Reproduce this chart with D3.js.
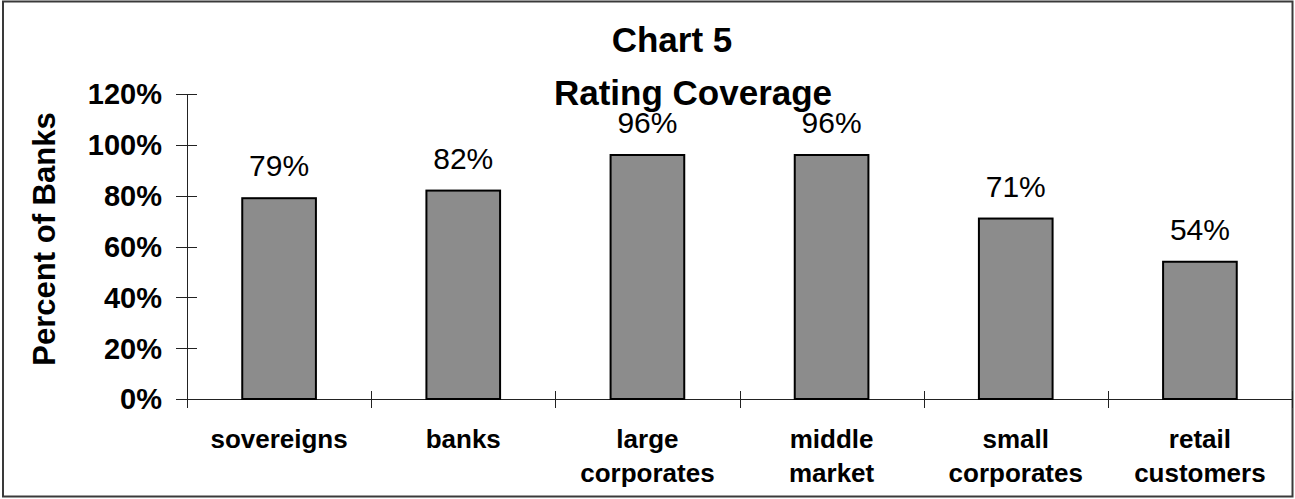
<!DOCTYPE html>
<meta charset="utf-8">
<style>
body {
  margin: 0;
  background: #fff;
}
svg {
  display: block;
  font-family: "Liberation Sans", Arial, sans-serif;
}
</style>
<script src="https://cdnjs.cloudflare.com/ajax/libs/d3/7.8.5/d3.min.js"></script>
<body></body>
<script>

var width = 1295;
var height = 499;

// data
var categories = [
  ['sovereigns'],
  ['banks'],
  ['large', 'corporates'],
  ['middle', 'market'],
  ['small', 'corporates'],
  ['retail', 'customers']
];
var coverage = [0.79, 0.82, 0.96, 0.96, 0.71, 0.54];
var yTicks = [0, 0.2, 0.4, 0.6, 0.8, 1.0, 1.2];

var plot = { left: 187, right: 1292, top: 94, bottom: 399 };

var svg = d3.select('body').append('svg')
  .attr('width', width)
  .attr('height', height);

// outer frame
svg.append('rect')
  .attr('x', 3)
  .attr('y', 1.5)
  .attr('width', 1289.5)
  .attr('height', 495)
  .attr('fill', 'none')
  .attr('stroke', '#3a3a3a')
  .attr('stroke-width', 2);

var x = d3.scaleBand()
  .domain(d3.range(categories.length))
  .range([plot.left, plot.right])
  .paddingInner(0.6)
  .paddingOuter(0.3);

var y = d3.scaleLinear()
  .domain([0, 1.2])
  .range([plot.bottom, plot.top]);

var pct = d3.format('.0%');

// y axis
var yAxis = svg.append('g');
yAxis.append('line')
  .attr('x1', plot.left + 0.5).attr('x2', plot.left + 0.5)
  .attr('y1', y(1.2)).attr('y2', plot.bottom + 9)
  .attr('stroke', '#222');
yAxis.selectAll('.tick')
  .data(yTicks)
  .enter().append('line')
  .attr('x1', plot.left - 11).attr('x2', plot.left + 10)
  .attr('y1', d => Math.round(y(d)) + 0.5)
  .attr('y2', d => Math.round(y(d)) + 0.5)
  .attr('stroke', '#222');
yAxis.selectAll('text')
  .data(yTicks)
  .enter().append('text')
  .attr('x', plot.left - 25)
  .attr('y', d => y(d))
  .attr('dy', '0.36em')
  .attr('text-anchor', 'end')
  .attr('font-size', 29)
  .attr('font-weight', 'bold')
  .text(d => pct(d));

// x axis
var xAxis = svg.append('g');
xAxis.append('line')
  .attr('x1', plot.left).attr('x2', plot.right)
  .attr('y1', plot.bottom + 0.5).attr('y2', plot.bottom + 0.5)
  .attr('stroke', '#222');
xAxis.selectAll('.tick')
  .data(d3.range(categories.length + 1))
  .enter().append('line')
  .attr('x1', i => Math.round(plot.left + i * x.step()) + 0.5)
  .attr('x2', i => Math.round(plot.left + i * x.step()) + 0.5)
  .attr('y1', plot.bottom - 8)
  .attr('y2', plot.bottom + 9)
  .attr('stroke', '#222');

var catLabel = xAxis.selectAll('text.cat')
  .data(categories)
  .enter().append('text')
  .attr('class', 'cat')
  .attr('x', (d, i) => x(i) + x.bandwidth() / 2)
  .attr('y', 448)
  .attr('text-anchor', 'middle')
  .attr('font-size', 26)
  .attr('font-weight', 'bold');
catLabel.selectAll('tspan')
  .data(d => d)
  .enter().append('tspan')
  .attr('x', function() { return this.parentNode.getAttribute('x'); })
  .attr('dy', (d, i) => i === 0 ? 0 : 34)
  .text(d => d);

// bars
svg.selectAll('rect.bar')
  .data(coverage)
  .enter().append('rect')
  .attr('class', 'bar')
  .attr('x', (d, i) => x(i))
  .attr('y', d => y(d))
  .attr('width', x.bandwidth())
  .attr('height', d => y(0) - y(d))
  .attr('fill', '#8c8c8c')
  .attr('stroke', '#000')
  .attr('stroke-width', 2);

// value labels
svg.selectAll('text.val')
  .data(coverage)
  .enter().append('text')
  .attr('class', 'val')
  .attr('x', (d, i) => x(i) + x.bandwidth() / 2)
  .attr('y', d => y(d) - 22)
  .attr('text-anchor', 'middle')
  .attr('font-size', 30)
  .text(d => pct(d));

// titles
svg.append('text')
  .attr('x', 672)
  .attr('y', 52)
  .attr('text-anchor', 'middle')
  .attr('font-size', 35)
  .attr('font-weight', 'bold')
  .text('Chart 5');
svg.append('text')
  .attr('x', 693)
  .attr('y', 105)
  .attr('text-anchor', 'middle')
  .attr('font-size', 35)
  .attr('font-weight', 'bold')
  .text('Rating Coverage');

svg.append('text')
  .attr('transform', 'translate(55,239) rotate(-90)')
  .attr('text-anchor', 'middle')
  .attr('font-size', 31)
  .attr('font-weight', 'bold')
  .text('Percent of Banks');

</script>
